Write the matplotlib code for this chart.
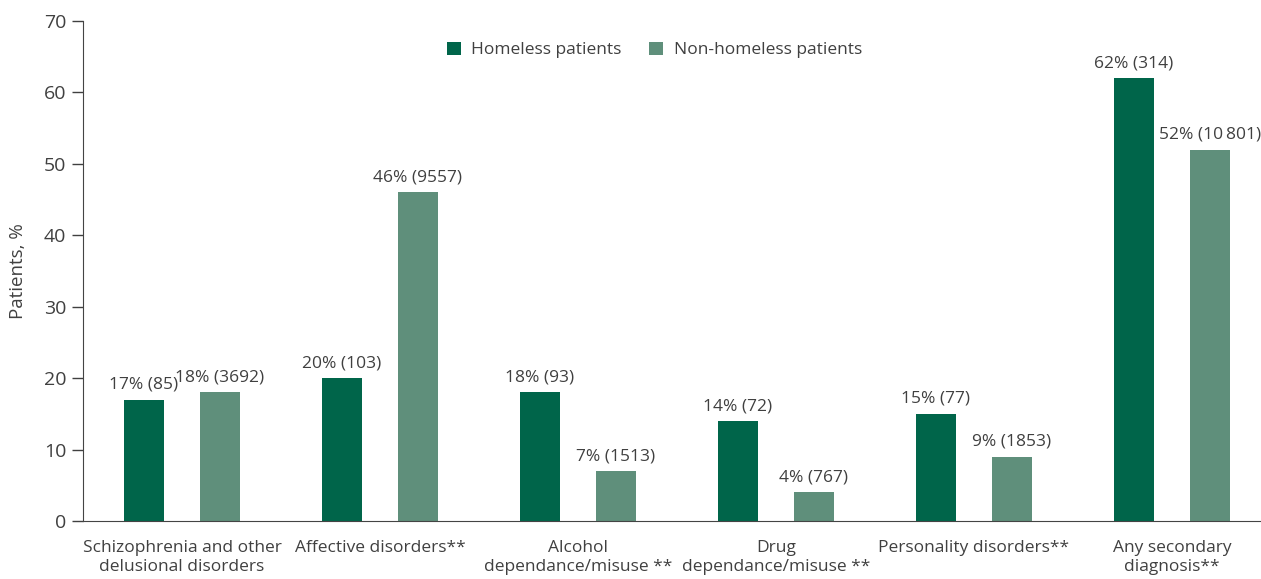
import numpy as np
import matplotlib.pyplot as plt

plt.rcParams['font.family'] = ['Open Sans', 'DejaVu Sans']

# Data
categories = ["Schizophrenia and other\ndelusional disorders",
              "Affective disorders**",
              "Alcohol\ndependance/misuse **",
              "Drug\ndependance/misuse **",
              "Personality disorders**",
              "Any secondary\ndiagnosis**"]
homeless = [17, 20, 18, 14, 15, 62]
homeless_n = ["85", "103", "93", "72", "77", "314"]
non_homeless = [18, 46, 7, 4, 9, 52]
non_homeless_n = ["3692", "9557", "1513", "767", "1853", "10\u2009801"]

c_home = "#00654a"
c_non = "#5f8f7b"
txt = "#404040"

fig = plt.figure(figsize=(12.61, 5.79), dpi=100)
ax = fig.add_axes([83 / 1261, 1 - 521 / 579, 1 - 83 / 1261, 500 / 579])

x = np.arange(len(categories))
w = 0.202
off = 0.192
ax.bar(x - off, homeless, w, color=c_home, label="Homeless patients")
ax.bar(x + off, non_homeless, w, color=c_non, label="Non-homeless patients")

for xi, v, n in zip(x - off, homeless, homeless_n):
    ax.annotate(f"{v}% ({n})", (xi, v), xytext=(0, 5), textcoords="offset points",
                ha="center", va="bottom", fontsize=12.5, color=txt, annotation_clip=False)
for xi, v, n in zip(x + off, non_homeless, non_homeless_n):
    ax.annotate(f"{v}% ({n})", (xi, v), xytext=(0, 5), textcoords="offset points",
                ha="center", va="bottom", fontsize=12.5, color=txt, annotation_clip=False)

ax.set_xlim(-0.5, 5.45)
ax.set_ylim(0, 70)
ax.set_yticks(range(0, 71, 10))
ax.set_xticks(x)
ax.set_xticklabels(categories, fontsize=12.5, color=txt, linespacing=1.2)
ax.tick_params(axis="x", length=0, pad=14)
ax.tick_params(axis="y", length=8, width=1, colors=txt, labelsize=14, pad=4)
ax.set_ylabel("Patients, %", fontsize=13.5, color=txt, labelpad=12)

ax.spines["top"].set_visible(False)
ax.spines["right"].set_visible(False)
ax.spines["left"].set_color("#444444")
ax.spines["bottom"].set_color("#444444")

ax.legend(loc="upper center", bbox_to_anchor=(0.485, 0.99), ncol=2, frameon=False,
          fontsize=12.5, handlelength=0.8, handleheight=0.8, columnspacing=1.6,
          handletextpad=0.6, labelcolor=txt)

fig.savefig("out.png", dpi=100)
